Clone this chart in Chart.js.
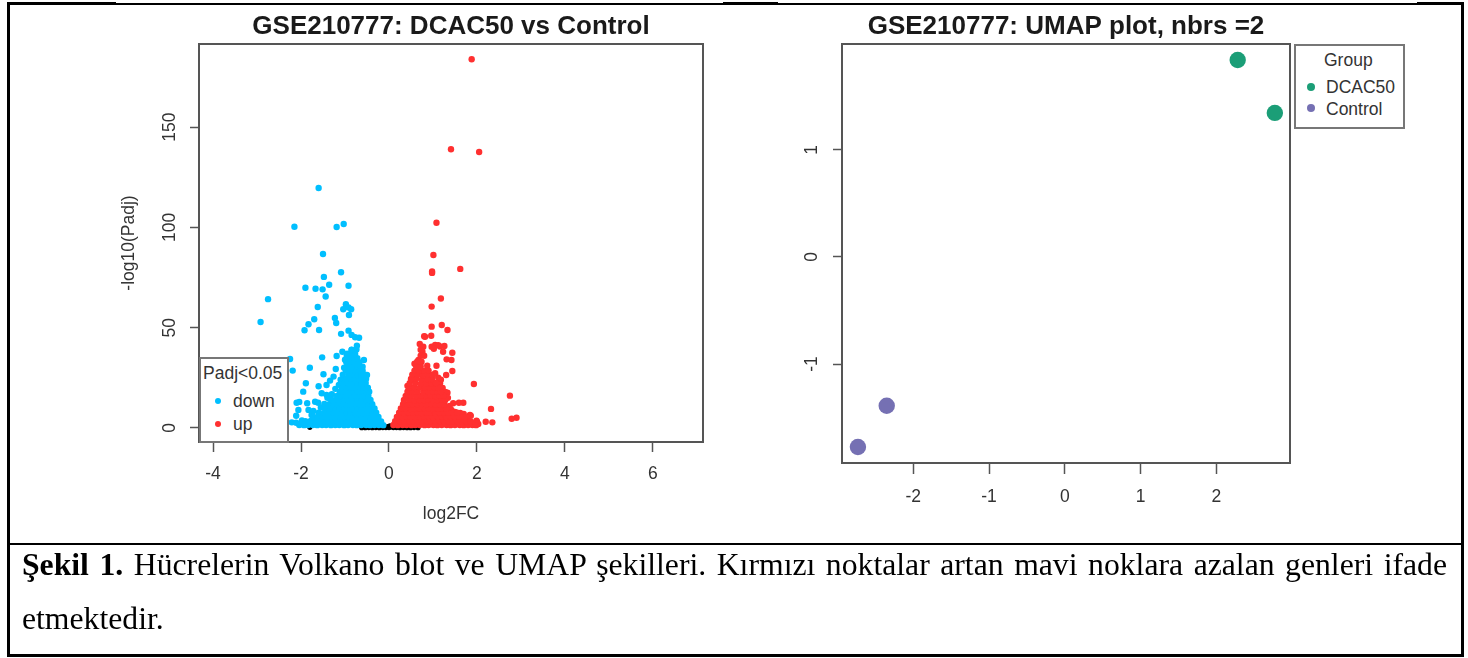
<!DOCTYPE html>
<html>
<head>
<meta charset="utf-8">
<script src="https://cdn.jsdelivr.net/npm/chart.js@4"></script>
<style>
  html, body { margin: 0; padding: 0; background: #fff; }
  body { width: 1468px; height: 658px; position: relative; overflow: hidden; font-family: "Liberation Sans", sans-serif; color: #333; }
  canvas { position: absolute; top: 0; }
  .rule { position: absolute; background: #000; }
  .legend { position: absolute; background: #fff; border: 2px solid #777; box-sizing: border-box; }
  .legend span { position: absolute; font-size: 17.5px; line-height: 18px; white-space: nowrap; }
  .legend i { position: absolute; border-radius: 50%; }
  #caption { position: absolute; left: 22px; top: 538px; width: 1425px; font: 31.7px/54px "Liberation Serif", serif; color: #000; text-align: justify; }
</style>
</head>
<body>
<canvas id="volcano" width="790" height="540" style="left:0"></canvas>
<canvas id="umap" width="678" height="540" style="left:790px"></canvas>

<div class="rule" style="left:8px;top:3px;width:1455px;height:2px"></div>
<div class="rule" style="left:8px;top:2px;width:108px;height:3px"></div>
<div class="rule" style="left:723px;top:2px;width:55px;height:3px"></div>
<div class="rule" style="left:1417px;top:2px;width:46px;height:3px"></div>
<div class="rule" style="left:7px;top:2px;width:3px;height:654px"></div>
<div class="rule" style="left:1461px;top:2px;width:3px;height:654px"></div>
<div class="rule" style="left:7px;top:543px;width:1457px;height:2px"></div>
<div class="rule" style="left:7px;top:654px;width:1457px;height:3px"></div>

<div class="legend" style="left:199px;top:357px;width:90px;height:86px">
  <span style="left:2px;top:5px">Padj&lt;0.05</span>
  <i style="left:14px;top:39px;width:6px;height:6px;background:#00bfff"></i>
  <span style="left:32px;top:33px">down</span>
  <i style="left:14px;top:62px;width:6px;height:6px;background:#ff3030"></i>
  <span style="left:32px;top:56px">up</span>
</div>
<div class="legend" style="left:1294px;top:44px;width:111px;height:85px">
  <span style="left:28px;top:5px">Group</span>
  <i style="left:11px;top:37px;width:8px;height:8px;background:#1b9e77"></i>
  <span style="left:30px;top:32px">DCAC50</span>
  <i style="left:11px;top:58px;width:8px;height:8px;background:#7570b3"></i>
  <span style="left:30px;top:54px">Control</span>
</div>

<div id="caption"><b>Şekil 1.</b> Hücrelerin Volkano blot ve UMAP şekilleri. Kırmızı noktalar artan mavi noklara azalan genleri ifade etmektedir.</div>

<script>
// Volcano plot, values
const volcanoXTicks = [-4, -2, 0, 2, 4, 6];
const volcanoYTicks = [0, 50, 100, 150];
const umapXTicks = [-2, -1, 0, 1, 2];
const umapYTicks = [-1, 0, 1];

// not significant, hugging the zero line
const nsPoints = [
  [-1.8,.3],[-.62,.1],[-.54,.1],[-.46,.2],[-.38,.1],[-.3,.2],[-.22,.1],[-.14,.2],[-.07,.2],[-.03,.7],[0,.2],
  [.02,1.1],[.05,.5],[.08,1],[.1,.2],[.17,.2],[.25,.1],[.33,.2],[.41,.1],[.49,.1],[.57,.2],[.66,.1]
];

// loose points above and to the left of the dense part
const downOutliers = [
  [-1.6,119.6],[-2.15,100.3],[-1.19,100.2],[-1.03,101.7],[-1.5,86.7],[-1.09,77.6],[-1.48,75.3],[-1.36,71.4],
  [-1.9,69.9],[-1.67,69.4],[-1.51,69.1],[-.92,70.9],[-1.44,65.5],[-2.75,64.2],[-1.62,60.3],[-.98,61.7],
  [-1.04,59.2],[-.92,60.1],[-.86,59.2],[-.91,56.3],[-1.23,54.8],[-1.2,52.3],[-1.7,54.2],[-2.92,52.8],
  [-1.83,51.7],[-1.92,48.7],[-1.59,48.8],[-1.09,46.9],[-.92,48.5],[-.85,46.4],[-.77,45.2],[-.68,45],
  [-.73,41],[-.85,38.9],[-1.06,38],[-1.19,35.9],[-.57,33.9],[-2.25,34.4],[-2.19,28.6],[-1.52,35.2],
  [-1.8,30],[-1.49,26.8],[-1.21,29.4],[-1.89,22.3],[-1.95,18.1],[-1.6,20.8],[-1.26,25.6],[-1.34,23.6],
  [-1.42,21.4],[-2.1,12.6],[-2.04,13],[-2.06,9],[-2.11,6.1],[-1.86,12.3],[-1.83,9],[-1.68,13.1],[-1.61,12.6],
  [-1.76,6.5],[-1.53,17.3],[-1.42,16.5],[-1.98,3.8],[-2.21,2.8],[-2.11,2.6],[-.5,26.4],[-1.33,14.5],
  [-1.72,8.5],[-1.55,10.2],[-1.47,12],[-1.4,15],[-1.3,16.8],[-1.22,19.5],[-1.14,21.5],[-1.1,24],[-1.05,26.5],
  [-1.02,30],[-1,34],[-.96,36],[-.62,27],[-.6,30.5]
];

// dense triangle, left of zero, read row by row
const downDense = [
  [-2.04,1.5],[-1.93,1.4],[-1.84,1.5],[-1.73,1.5],[-1.63,1.4],[-1.52,1.5],[-1.43,1.5],[-1.32,1.4],[-1.22,1.5],[-1.13,1.5],
  [-1.02,1.4],[-.93,1.5],[-.82,1.5],[-.73,1.4],[-.63,1.5],[-.52,1.5],[-.43,1.4],[-.33,1.5],[-.23,1.5],[-.13,1.4],
  [-1.9,3.4],[-1.78,3.5],[-1.68,3.4],[-1.57,3.3],[-1.47,3.5],[-1.38,3.4],[-1.27,3.4],[-1.17,3.5],[-1.08,3.3],[-.97,3.4],
  [-.87,3.5],[-.78,3.4],[-.67,3.3],[-.58,3.5],[-.47,3.4],[-.38,3.4],[-.28,3.5],[-.18,3.3],
  [-1.72,5.5],[-1.63,5.4],[-1.53,5.6],[-1.42,5.5],[-1.32,5.5],[-1.23,5.4],[-1.12,5.6],[-1.03,5.5],[-.92,5.4],[-.83,5.5],
  [-.72,5.6],[-.63,5.5],[-.52,5.4],[-.43,5.5],[-.33,5.6],[-.24,5.5],
  [-1.6,7.6],[-1.48,7.5],[-1.37,7.7],[-1.28,7.6],[-1.17,7.6],[-1.08,7.5],[-.97,7.7],[-.88,7.6],[-.77,7.5],[-.68,7.6],
  [-.57,7.7],[-.48,7.6],[-.38,7.5],[-.29,7.6],
  [-1.44,9.7],[-1.33,9.8],[-1.22,9.6],[-1.13,9.7],[-1.02,9.7],[-.93,9.8],[-.82,9.6],[-.72,9.7],[-.63,9.7],[-.52,9.8],
  [-.43,9.6],[-.33,9.7],
  [-1.36,11.8],[-1.27,11.7],[-1.17,11.9],[-1.07,11.8],[-.98,11.8],[-.87,11.7],[-.78,11.9],[-.67,11.8],[-.58,11.7],[-.47,11.8],[-.38,11.8],
  [-1.3,13.9],[-1.21,14],[-1.12,13.8],[-1.02,13.9],[-.92,13.9],[-.83,14],[-.72,13.8],[-.63,13.9],[-.53,14],[-.42,13.9],
  [-1.18,16],[-1.07,16.1],[-.98,15.9],[-.87,16],[-.77,16],[-.68,16.1],[-.57,15.9],[-.47,16],
  [-1.12,18.1],[-1.03,18.2],[-.92,18],[-.83,18.1],[-.72,18.1],[-.62,18.2],[-.53,18],[-.45,18.1],
  [-1.07,20.2],[-.98,20.3],[-.87,20.1],[-.78,20.2],[-.67,20.2],[-.58,20.3],[-.48,20.1],
  [-1.03,22.3],[-.92,22.4],[-.83,22.2],[-.72,22.3],[-.63,22.3],[-.53,22.4],
  [-.98,24.4],[-.87,24.5],[-.78,24.3],[-.67,24.4],[-.58,24.4],[-.52,24.5],
  [-.92,26.5],[-.83,26.6],[-.72,26.4],[-.63,26.5],[-.55,26.5],
  [-.98,28.6],[-.87,28.7],[-.78,28.5],[-.67,28.6],[-.6,28.6],
  [-.93,30.7],[-.83,30.8],[-.72,30.6],[-.64,30.7],
  [-.97,32.8],[-.87,32.9],[-.78,32.7],[-.68,32.8],
  [-.92,34.9],[-.82,35],[-.72,34.8],
  [-.95,37],[-.87,37.1],[-.77,36.9],
  [-.85,39],[-.74,39.1]
];

const upOutliers = [
  [1.88,183.8],[1.41,138.9],[2.05,137.6],[1.08,102.3],[1.01,86.2],[.98,78],[.98,77.3],[1.62,79.3],[1.18,64.5],[.97,60.5],
  [.97,50.5],[1.2,51.3],[1.33,48.8],[.8,45.7],[.96,46],[.82,45.5],[.7,41.9],[.78,40.5],[.76,38],[1.05,41.4],[.97,40.5],
  [1.26,40.9],[1.23,38],[1.44,37.5],[1.31,34.2],[1.42,33.9],[.67,33.9],[.63,30.6],[.87,31],[1.08,31],[1.44,28.4],
  [1.3,26.4],[1.16,22.3],[1.05,27.3],[1.93,21.9],[1.33,17.6],[2.75,16.1],[2.32,9.5],[2.2,3.1],[2.35,2.8],[2.79,4.6],[2.9,5.1],
  [1.69,12.6],[1.59,12.6],[1.46,12.3],[1.84,6.5],[1.99,3.6],[1.86,6.1],[2,3.1],
  [.72,36],[.68,31.5],[.6,27],[.55,24],[.42,21],[.58,32],[.75,27],[1.12,25],[1.18,24],[1.1,22],[1.22,20],[1.28,18],
  [1.34,15],[1.38,11],[1.42,9],[1.5,8],[1.62,7.5],[1.7,7],[1.78,5],[1.95,2.4],[2.03,2],
  [1.12,41.3],[1.16,40.6],[.72,39],[.8,36],[.74,33],[1.02,39.5]
];

// dense triangle, right of zero, read row by row
const upDense = [
  [.1,1.5],[.2,1.4],[.31,1.5],[.4,1.5],[.51,1.4],[.6,1.5],[.7,1.5],[.81,1.4],[.9,1.5],[1.01,1.5],[1.1,1.4],[1.2,1.5],
  [1.31,1.5],[1.4,1.4],[1.5,1.5],[1.61,1.5],[1.7,1.4],[1.8,1.5],[1.9,1.5],[1.98,1.4],
  [.14,3.4],[.25,3.5],[.35,3.4],[.46,3.3],[.55,3.5],[.66,3.4],[.75,3.4],[.86,3.5],[.95,3.3],[1.05,3.4],[1.16,3.5],
  [1.25,3.4],[1.35,3.3],[1.45,3.5],[1.56,3.4],[1.66,3.4],[1.75,3.5],[1.86,3.3],
  [.18,5.5],[.3,5.4],[.4,5.6],[.5,5.5],[.6,5.5],[.71,5.4],[.8,5.6],[.91,5.5],[1,5.4],[1.11,5.5],[1.2,5.6],[1.3,5.5],
  [1.41,5.4],[1.5,5.5],[1.6,5.6],[1.72,5.5],
  [.23,7.6],[.34,7.5],[.45,7.7],[.55,7.6],[.66,7.6],[.75,7.5],[.86,7.7],[.96,7.6],[1.05,7.5],[1.16,7.6],[1.25,7.7],
  [1.35,7.6],[1.46,7.5],[1.55,7.6],
  [.27,9.7],[.38,9.8],[.5,9.6],[.6,9.7],[.7,9.7],[.8,9.8],[.91,9.6],[1,9.7],[1.11,9.7],[1.2,9.8],[1.3,9.6],
  [.32,11.8],[.43,11.7],[.54,11.9],[.65,11.8],[.75,11.8],[.85,11.7],[.96,11.9],[1.05,11.8],[1.16,11.7],[1.26,11.8],
  [.34,13.9],[.46,14],[.58,13.8],[.7,13.9],[.8,13.9],[.9,14],[1,13.8],[1.1,13.9],[1.2,14],[1.28,13.9],
  [.38,16],[.5,16.1],[.62,15.9],[.74,16],[.85,16],[.95,16.1],[1.06,15.9],[1.16,16],[1.24,16],
  [.42,18.1],[.53,18.2],[.65,18],[.78,18.1],[.9,18.1],[1,18.2],[1.1,18],[1.18,18.1],
  [.45,20.2],[.57,20.3],[.7,20.1],[.82,20.2],[.93,20.2],[1.03,20.3],[1.12,20.1],
  [.47,22.3],[.6,22.4],[.73,22.2],[.85,22.3],[.97,22.3],[1.07,22.4],
  [.5,24.4],[.62,24.5],[.75,24.3],[.87,24.4],[.98,24.4],
  [.53,26.5],[.65,26.6],[.77,26.4],[.88,26.5],[1,26.5],
  [.58,28.6],[.68,28.7],[.8,28.5],[.9,28.6],
  [.62,30.7],[.72,30.8],
  [.64,33],[.7,33.1]
];

const umapDcac = [[2.28, 1.84], [2.77, 1.346]];
const umapControl = [[-2.35, -1.39], [-2.73, -1.776]];

const toXY = arr => arr.map(p => ({ x: p[0], y: p[1] }));

// R style frame round the plot
const plotBox = {
  id: 'plotBox',
  afterDatasetsDraw(chart) {
    const { ctx, chartArea: { left, top, right, bottom } } = chart;
    ctx.save();
    ctx.strokeStyle = '#555';
    ctx.lineWidth = 2;
    ctx.strokeRect(left, top, right - left, bottom - top);
    ctx.restore();
  }
};

const tickFont = { family: 'Liberation Sans', size: 17.5 };
const titleFont = { family: 'Liberation Sans', size: 26, weight: 'bold' };

function makeChart(id, datasets, titleText, opts) {
  return new Chart(id, {
    type: 'scatter',
    data: { datasets: datasets },
    options: {
      responsive: false,
      animation: false,
      layout: { padding: opts.padding },
      plugins: {
        legend: { display: false },
        tooltip: { enabled: false },
        title: {
          display: true,
          text: titleText,
          color: '#1a1a1a',
          font: titleFont,
          fullSize: false,
          padding: { top: 11, bottom: 1.8 }
        }
      },
      scales: {
        x: {
          min: opts.xRange[0],
          max: opts.xRange[1],
          afterBuildTicks: s => { s.ticks = opts.xTicks.map(v => ({ value: v })); },
          afterFit: s => { s.height = opts.xAxisHeight; },
          border: { display: false },
          grid: { drawOnChartArea: false, tickLength: opts.xTickLength, tickColor: '#555', tickWidth: 1.5 },
          ticks: { color: '#333', font: tickFont, padding: opts.xTickPadding, maxRotation: 0, autoSkip: false, callback: v => String(v) },
          title: opts.xTitle ? { display: true, text: opts.xTitle, color: '#333', font: tickFont, padding: { top: 0, bottom: 15 } } : { display: false }
        },
        y: {
          min: opts.yRange[0],
          max: opts.yRange[1],
          afterBuildTicks: s => { s.ticks = opts.yTicks.map(v => ({ value: v })); },
          afterFit: s => { s.width = opts.yAxisWidth; },
          border: { display: false },
          grid: { drawOnChartArea: false, tickLength: 9, tickColor: '#555', tickWidth: 1.5 },
          ticks: { color: '#333', font: tickFont, padding: opts.yTickPadding, minRotation: 90, maxRotation: 90, crossAlign: 'center', autoSkip: false, callback: v => String(v) },
          title: opts.yTitle ? { display: true, text: opts.yTitle, color: '#333', font: tickFont, padding: { top: 9, bottom: 0 } } : { display: false }
        }
      }
    },
    plugins: [plotBox]
  });
}

makeChart('volcano', [
  // first dataset ends up on top in Chart.js
  { data: toXY(upOutliers.concat(upDense)), backgroundColor: '#ff3030', pointRadius: 3.2, pointBorderWidth: 0 },
  { data: toXY(downOutliers.concat(downDense)), backgroundColor: '#00bfff', pointRadius: 3.2, pointBorderWidth: 0 },
  { data: toXY(nsPoints), backgroundColor: '#000', pointRadius: 2.6, pointBorderWidth: 0 }
], 'GSE210777: DCAC50 vs Control', {
  padding: { left: 110, right: 87, top: 0, bottom: 0 },
  xRange: [-4.32, 7.14], yRange: [-7, 191.4],
  xTicks: volcanoXTicks, yTicks: volcanoYTicks,
  xAxisHeight: 98, yAxisWidth: 89, yTickPadding: 5,
  xTickLength: 10, xTickPadding: 12,
  xTitle: 'log2FC', yTitle: '-log10(Padj)'
});

makeChart('umap', [
  { data: toXY(umapDcac), backgroundColor: '#1b9e77', pointRadius: 8.2, pointBorderWidth: 0 },
  { data: toXY(umapControl), backgroundColor: '#7570b3', pointRadius: 8.2, pointBorderWidth: 0 }
], 'GSE210777: UMAP plot, nbrs =2', {
  padding: { left: 0, right: 178, top: 0, bottom: 0 },
  xRange: [-2.94, 2.97], yRange: [-1.925, 1.99],
  xTicks: umapXTicks, yTicks: umapYTicks,
  xAxisHeight: 77, yAxisWidth: 52, yTickPadding: 13,
  xTickLength: 11, xTickPadding: 13
});
</script>
</body>
</html>
